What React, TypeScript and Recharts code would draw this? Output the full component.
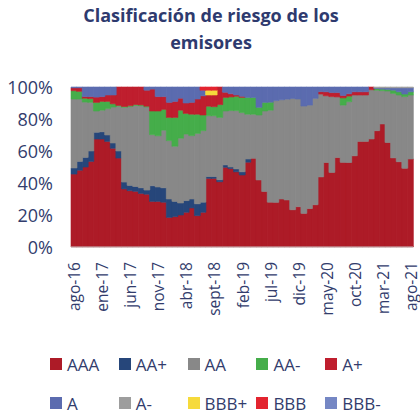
import React from "react";
import { BarChart, Bar, XAxis, YAxis } from "recharts";

// ─── Data ─────────────────────────────────────────────────────────────────────

const MONTH_NAMES = ["ene", "feb", "mar", "abr", "may", "jun", "jul", "ago", "sept", "oct", "nov", "dic"];
// ago-16 .. ago-21, monthly
const months: string[] = Array.from({ length: 61 }, (_, i) => {
  const m = 7 + i;
  return `${MONTH_NAMES[m % 12]}-${16 + Math.floor(m / 12)}`;
});

const aaa = [
  45.6, 48, 50, 53.5, 67.5, 67.5, 66, 61.7, 55.6, 36.3,
  35.2, 34.8, 33.5, 33, 28.5, 28.5, 28, 18.5, 19, 20,
  21.7, 24.4, 19.6, 21.7, 42.9, 42.9, 40.8, 49.8, 49, 47,
  45, 53, 55.4, 41.9, 34.7, 28, 27.9, 30, 29.4, 23.3,
  25.2, 21, 24, 26.4, 43.8, 52.8, 46.6, 55.9, 52.9, 52.8,
  57, 66, 66, 67.5, 72.7, 76.9, 65.3, 55.7, 53.3, 49.2,
  55,
];
const aaPlus = [
  3.8, 5.5, 6, 6.5, 4.2, 4.5, 4, 3.3, 4.4, 4.3,
  3.3, 3, 3.5, 2.6, 9.8, 9, 9, 11.5, 9.5, 7.5,
  7.3, 5.6, 7.4, 6.3, 1.1, 1.1, 1.2, 1.5, 1, 1.8,
  2, 2, 0, 0, 0, 0, 0, 0, 0, 0,
  0, 0, 0, 0, 0, 0, 0, 0, 0, 0,
  0, 0, 0, 0, 0, 0, 0, 0, 0, 0,
  0,
];
const aa = [
  43.1, 39, 34.6, 30.4, 13.3, 13.5, 16.5, 22.5, 28, 46.7,
  49.3, 50.7, 51.3, 51.9, 31.9, 32, 36, 36.5, 34.5, 40.5,
  41.6, 39.6, 44, 44.7, 38, 38, 39, 33.7, 35.3, 36.4,
  37, 28, 27.6, 40.6, 50.3, 57.5, 63.6, 62, 63, 69.5,
  67.3, 67.1, 64.7, 66.5, 51.8, 41.7, 47.4, 37.9, 35.8, 38,
  38, 29, 29, 30.8, 25.3, 20.8, 32.2, 40.3, 41.7, 44.8,
  40,
];
const aaMinus = [
  5.2, 4.8, 2.4, 2.3, 5.4, 5.5, 4.5, 2, 0.5, 0.5,
  0.5, 0.5, 0.5, 0.5, 14.8, 15.5, 13, 14.5, 18, 17.5,
  12.9, 13.4, 12, 9.8, 6, 5.7, 8, 8.5, 8.5, 9,
  9.5, 10.5, 10.5, 4.8, 5.4, 5, 0, 0, 0, 0,
  0, 0, 0, 0, 0, 0, 0, 0, 4.5, 3.5,
  0, 0, 0, 0, 1, 1, 1, 2, 2, 1.6,
  2,
];
const aPlus = [
  1.8, 2.2, 1, 1.3, 3.3, 3, 4, 5.5, 11.5, 12.2,
  11.7, 11, 11.2, 10, 13.7, 9, 8, 9.4, 10, 7.5,
  6.5, 7.4, 9.5, 12, 7, 7.3, 11, 3.2, 2, 0.8,
  0.7, 0, 0, 0, 0, 0, 0, 0, 0, 0,
  0, 0, 0, 0, 1.5, 2.5, 2.5, 2.7, 1.5, 1.5,
  2, 2, 2, 1.7, 0, 0, 0, 0, 0, 0,
  0,
];
const aSingle = [
  0.5, 0.5, 6, 6, 6.3, 6, 5, 5, 0, 0,
  0, 0, 0, 2, 1.3, 6, 6, 9.6, 9, 7,
  10, 9.6, 7.5, 3.5, 0, 0, 0, 3.3, 4.2, 5,
  5.8, 6.5, 6.5, 12.7, 9.6, 9.5, 8.5, 8, 7.6, 7.2,
  7.5, 11.9, 11.3, 7.1, 2.9, 3, 3.5, 3.5, 5.3, 4.2,
  3, 3, 3, 0, 0.5, 0.7, 1, 1.5, 2.5, 3.9,
  2.5,
];
const aMinus = [
  0, 0, 0, 0, 0, 0, 0, 0, 0, 0,
  0, 0, 0, 0, 0, 0, 0, 0, 0, 0,
  0, 0, 0, 0, 0, 0, 0, 0, 0, 0,
  0, 0, 0, 0, 0, 0, 0, 0, 0, 0,
  0, 0, 0, 0, 0, 0, 0, 0, 0, 0,
  0, 0, 0, 0, 0.5, 0.6, 0.5, 0.5, 0.5, 0.5,
  0.5,
];
const bbbPlus = [
  0, 0, 0, 0, 0, 0, 0, 0, 0, 0,
  0, 0, 0, 0, 0, 0, 0, 0, 0, 0,
  0, 0, 0, 0, 3, 3, 0, 0, 0, 0,
  0, 0, 0, 0, 0, 0, 0, 0, 0, 0,
  0, 0, 0, 0, 0, 0, 0, 0, 0, 0,
  0, 0, 0, 0, 0, 0, 0, 0, 0, 0,
  0,
];
const bbb = [
  0, 0, 0, 0, 0, 0, 0, 0, 0, 0,
  0, 0, 0, 0, 0, 0, 0, 0, 0, 0,
  0, 0, 0, 2, 2, 2, 0, 0, 0, 0,
  0, 0, 0, 0, 0, 0, 0, 0, 0, 0,
  0, 0, 0, 0, 0, 0, 0, 0, 0, 0,
  0, 0, 0, 0, 0, 0, 0, 0, 0, 0,
  0,
];
const bbbMinus = new Array(61).fill(0);

const SERIES = [
  { key: "AAA", values: aaa, color: "#ad1b27" },
  { key: "AA+", values: aaPlus, color: "#26467a" },
  { key: "AA", values: aa, color: "#888888" },
  { key: "AA-", values: aaMinus, color: "#45ad4a" },
  { key: "A+", values: aPlus, color: "#bf1e2e" },
  { key: "A", values: aSingle, color: "#5b6baf" },
  { key: "A-", values: aMinus, color: "#9d9d9d" },
  { key: "BBB+", values: bbbPlus, color: "#f6da3b" },
  { key: "BBB", values: bbb, color: "#e3242f" },
  { key: "BBB-", values: bbbMinus, color: "#7587c4" },
];

const Y_TICKS = [0, 0.2, 0.4, 0.6, 0.8, 1];

const rows = months.map((name, i) => {
  const row: Record<string, number | string> = { name };
  SERIES.forEach((s) => (row[s.key] = s.values[i]));
  return row;
});

// ─── Styles ───────────────────────────────────────────────────────────────────

const FONT = "'Open Sans', 'Noto Sans', sans-serif";
const TEXT = "#323c6c";

const XTick = ({ x, y, payload }: any) => (
  <text
    transform={`translate(${x + 0.5},${y + 7}) rotate(-90)`}
    textAnchor="end"
    dominantBaseline="central"
    fill={TEXT}
    fontSize={15.5}
    fontFamily={FONT}
  >
    {payload.value}
  </text>
);

const YTick = ({ x, y, payload }: any) => (
  <text
    x={x - 10}
    y={y}
    textAnchor="end"
    dominantBaseline="central"
    fill={TEXT}
    fontSize={18}
    fontFamily={FONT}
  >
    {`${Math.round(payload.value * 100)}%`}
  </text>
);

const LegendBox = () => (
  <div style={{ position: "absolute", left: 0, top: 0 }}>
    {SERIES.map((s, i) => {
      const col = i % 5;
      const row = Math.floor(i / 5);
      return (
        <div
          key={s.key}
          style={{
            position: "absolute",
            left: 50 + col * 68.8,
            top: 352 + row * 39,
            height: 24,
            display: "flex",
            alignItems: "center",
            whiteSpace: "nowrap",
          }}
        >
          <span style={{ width: 12, height: 12, background: s.color, display: "inline-block" }} />
          <span style={{ marginLeft: 5, fontSize: 17, color: TEXT, fontFamily: FONT }}>{s.key}</span>
        </div>
      );
    })}
  </div>
);

// ─── Chart ────────────────────────────────────────────────────────────────────

export default function App() {
  return (
    <div style={{ position: "absolute", left: 0, top: 0, width: 420, height: 416, background: "#fff" }}>
      <div
        style={{
          position: "absolute",
          left: 0,
          top: 2,
          width: 422,
          textAlign: "center",
          fontFamily: FONT,
          fontWeight: 700,
          fontSize: 18,
          lineHeight: "27px",
          color: "#2e3a6e",
        }}
      >
        Clasificación de riesgo de los
        <br />
        emisores
      </div>
      <BarChart
        width={420}
        height={416}
        data={rows}
        margin={{ top: 87, right: 7, bottom: 0, left: 0 }}
        barCategoryGap={0}
        barGap={0}
        stackOffset="expand"
      >
        <XAxis
          dataKey="name"
          height={169}
          interval={4}
          tick={<XTick />}
          tickLine={false}
          axisLine={{ stroke: "#c8c8c8" }}
        />
        <YAxis
          width={71}
          domain={[0, 1]}
          ticks={Y_TICKS}
          tick={<YTick />}
          tickLine={false}
          axisLine={false}
        />
        {SERIES.map((s) => (
          <Bar
            key={s.key}
            dataKey={s.key}
            stackId="r"
            fill={s.color}
            stroke={s.color}
            strokeWidth={0.6}
            isAnimationActive={false}
          />
        ))}
      </BarChart>
      <LegendBox />
    </div>
  );
}
